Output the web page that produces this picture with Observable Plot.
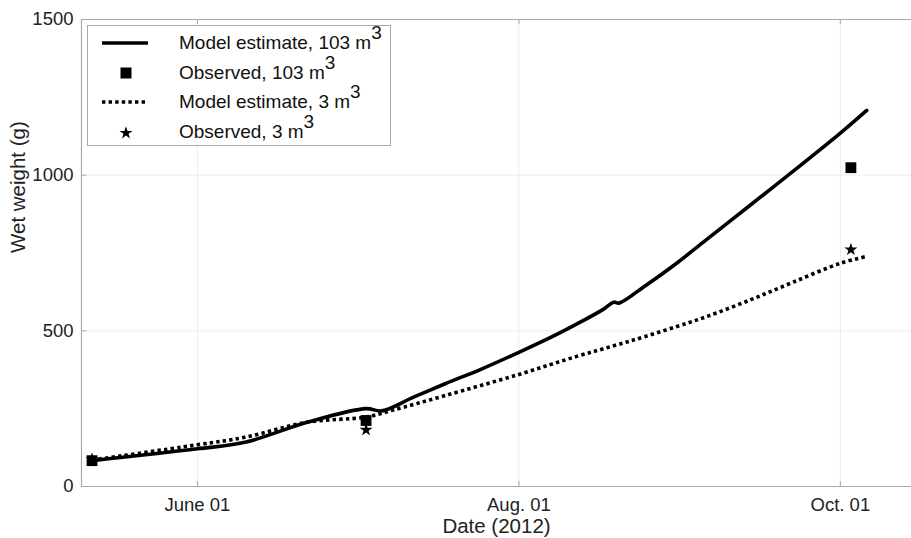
<!DOCTYPE html>
<html>
<head>
<meta charset="utf-8">
<script src="https://cdn.jsdelivr.net/npm/d3@7"></script>
<script src="https://cdn.jsdelivr.net/npm/@observablehq/plot@0.6"></script>
<style>
  html, body { margin: 0; padding: 0; background: #fff; }
  #wrap { position: relative; width: 911px; height: 538px; font-family: "Liberation Sans", Arial, sans-serif; }
  #legend { position: absolute; left: 87px; top: 25px; width: 304px; height: 121px; border: 1px solid #a8a8a8; background: #fff; box-sizing: border-box; }
  .row { position: absolute; left: 0; height: 30px; width: 100%; }
  .row svg { position: absolute; left: 0; top: 0; }
  .row span { position: absolute; left: 91px; top: 3px; font-size: 19px; color: #111; white-space: nowrap; line-height: 24px; }
  .row sup { font-size: 19px; position: relative; top: -1px; vertical-align: 0.45em; line-height: 0; }
</style>
</head>
<body>
<div id="wrap"></div>
<script>
const parse = d3.utcParse("%Y-%m-%d");

// Model estimate, 103 m^3 (solid)
const model103Dates = ["2012-05-12","2012-06-01","2012-06-10","2012-06-22","2012-07-03","2012-07-06","2012-07-12","2012-07-18","2012-07-25","2012-08-01","2012-08-08","2012-08-13","2012-08-17","2012-08-19","2012-08-20","2012-08-25","2012-08-31","2012-09-05","2012-09-14","2012-09-22","2012-10-01","2012-10-06"];
const model103Values = [83,121,142,207,250,243,287,330,378,431,487,531,569,592,589,645,718,785,905,1012,1135,1208];

// Model estimate, 3 m^3 (dotted)
const model3Dates = ["2012-05-12","2012-06-01","2012-06-10","2012-06-22","2012-07-03","2012-07-08","2012-07-18","2012-08-01","2012-08-12","2012-08-19","2012-08-25","2012-09-02","2012-09-06","2012-09-14","2012-09-22","2012-10-01","2012-10-06"];
const model3Values = [85,134,158,207,223,245,292,360,418,452,482,525,548,600,656,717,739];

// Observations
const obs103Dates = ["2012-05-12","2012-07-03","2012-10-03"];
const obs103Values = [83,212,1024];
const obs3Dates = ["2012-05-12","2012-07-03","2012-10-03"];
const obs3Values = [88,182,761];

// Axes
const xTickDates = ["2012-06-01","2012-08-01","2012-10-01"];
const xTickLabels = ["June 01","Aug. 01","Oct. 01"];
const yTicks = [0,500,1000,1500];
const xDomain = ["2012-05-10","2012-10-14T12:00"];
const yDomain = [0,1500];

const toRows = (ds, vs) => ds.map((d, i) => ({date: parse(d), value: vs[i]}));
const m103 = toRows(model103Dates, model103Values);
const m3 = toRows(model3Dates, model3Values);
const o103 = toRows(obs103Dates, obs103Values);
const o3 = toRows(obs3Dates, obs3Values);
const xt = xTickDates.map(parse);
const xd = [parse(xDomain[0]), new Date(xDomain[1] + "Z")];
const labelOf = new Map(xt.map((d, i) => [+d, xTickLabels[i]]));

const frameColor = "#a8a8a8";
const gridColor = "#ececec";
const tickLenY = 1500 * 5 / 467;   // ~5px in data units
const tickLenX = 86400000 * 1.0;   // ~5px in time units

const chart = Plot.plot({
  width: 911,
  height: 538,
  marginLeft: 81,
  marginTop: 19,
  marginBottom: 52,
  marginRight: 0,
  style: {fontFamily: "Liberation Sans, Arial, sans-serif", fontSize: "18.5px", color: "#222", background: "#fff"},
  x: {type: "utc", domain: xd},
  y: {domain: yDomain},
  marks: [
    Plot.gridX(xt, {stroke: gridColor, strokeOpacity: 1}),
    Plot.gridY(yTicks, {stroke: gridColor, strokeOpacity: 1}),
    // inward ticks
    Plot.ruleX(xt, {x: d => d, y1: 0, y2: tickLenY, stroke: frameColor}),
    Plot.ruleX(xt, {x: d => d, y1: 1500, y2: 1500 - tickLenY, stroke: frameColor}),
    Plot.ruleY(yTicks, {y: d => d, x1: xd[0], x2: new Date(+xd[0] + tickLenX), stroke: frameColor}),
    // frame (left, top, bottom)
    Plot.ruleX([xd[0]], {stroke: frameColor, strokeWidth: 1.2}),
    Plot.ruleY([0, 1500], {stroke: frameColor, strokeWidth: 1.2}),
    Plot.axisX(xt, {tickSize: 0, tickPadding: 11, tickFormat: d => labelOf.get(+d), label: null, fontSize: 18.5}),
    Plot.axisY(yTicks, {tickSize: 0, tickPadding: 8, tickFormat: d3.format("d"), label: null, fontSize: 18.5}),
    Plot.text(["Date (2012)"], {frameAnchor: "bottom", dy: 46, fontSize: 20.5, fill: "#222"}),
    Plot.text(["Wet weight (g)"], {frameAnchor: "left", rotate: -90, dx: -63, fontSize: 20.5, fill: "#222"}),
    // lines
    Plot.line(m3, {x: "date", y: "value", stroke: "#000", strokeWidth: 3.6, strokeDasharray: "3.4,3.2", strokeLinecap: "butt", curve: "catmull-rom"}),
    Plot.line(m103, {x: "date", y: "value", stroke: "#000", strokeWidth: 3.6, curve: "catmull-rom"}),
    // observations
    Plot.dot(o3, {x: "date", y: "value", symbol: "star", r: 4.1, fill: "#000", stroke: "none"}),
    Plot.dot(o103, {x: "date", y: "value", symbol: "square", r: 6.1, fill: "#000", stroke: "none"})
  ]
});

const wrap = document.getElementById("wrap");
wrap.appendChild(chart);

// Legend (HTML, for superscripts)
const legendItems = [
  {label: "Model estimate, 103 m", kind: "solid"},
  {label: "Observed, 103 m", kind: "square"},
  {label: "Model estimate, 3 m", kind: "dotted"},
  {label: "Observed, 3 m", kind: "star"}
];
const legend = document.createElement("div");
legend.id = "legend";
const rowTops = [2, 32, 61, 91];
legendItems.forEach((it, i) => {
  const row = document.createElement("div");
  row.className = "row";
  row.style.top = rowTops[i] + "px";
  let sym = "";
  if (it.kind === "solid") sym = '<line x1="14" x2="60" y1="15" y2="15" stroke="#000" stroke-width="3.6"/>';
  if (it.kind === "dotted") sym = '<line x1="14" x2="60" y1="15" y2="15" stroke="#000" stroke-width="3.6" stroke-dasharray="3.4,3.2"/>';
  if (it.kind === "square") sym = '<rect x="32.5" y="9.5" width="11" height="11" fill="#000"/>';
  if (it.kind === "star") sym = '<path transform="translate(38,16)" d="' + d3.symbol(d3.symbolStar, Math.PI * 4.1 * 4.1)() + '" fill="#000"/>';
  row.innerHTML = '<svg width="80" height="30">' + sym + '</svg><span>' + it.label + '<sup>3</sup></span>';
  legend.appendChild(row);
});
wrap.appendChild(legend);
</script>
</body>
</html>
